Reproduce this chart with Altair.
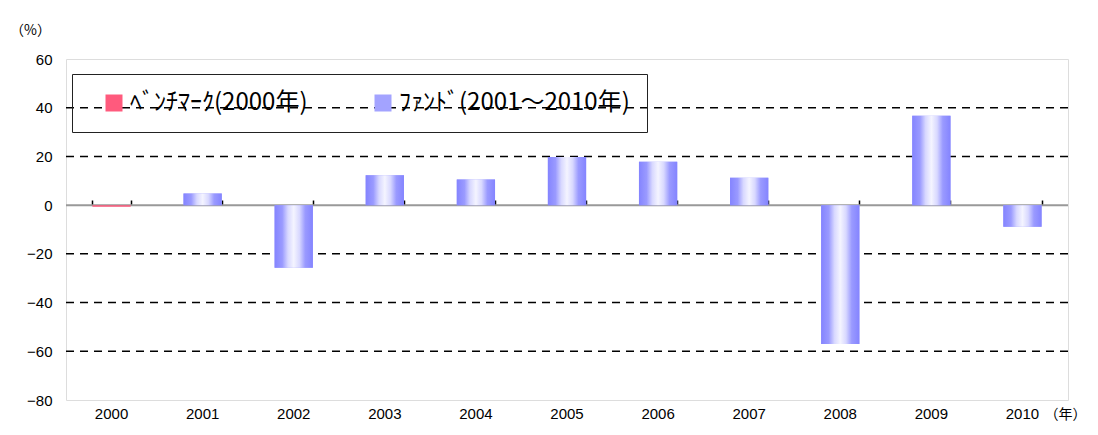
import altair as alt
import pandas as pd

years = ["2000", "2001", "2002", "2003", "2004", "2005", "2006", "2007", "2008", "2009", "2010"]
returns = [-0.7, 4.8, -25.7, 12.3, 10.5, 19.8, 17.8, 11.2, -57.0, 36.7, -8.9]
bench_label = "ﾍﾞﾝﾁﾏｰｸ(2000年)"
fund_label = "ﾌｧﾝﾄﾞ(2001～2010年)"
series = [bench_label] + [fund_label] * 10
grid_values = [40, 20, -20, -40, -60]
y_ticks = [60, 40, 20, 0, -20, -40, -60, -80]

df = pd.DataFrame({"year": years, "ret": returns, "series": series})
grid_df = pd.DataFrame({"v": grid_values})
zero_df = pd.DataFrame({"v": [0]})
tick_df = pd.DataFrame({"year": years})

NUM_FONT = "Liberation Sans"
JP_FONT = "Noto Sans CJK JP"

x_scale = alt.Scale(domain=years, paddingInner=0.58, paddingOuter=0.29)
y_scale = alt.Scale(domain=[-80, 60], nice=False, zero=False)

y_axis = alt.Axis(values=y_ticks, grid=False, ticks=False, domain=False,
                  labelFont=NUM_FONT, labelFontSize=15, labelColor="black",
                  labelPadding=14, title="（%）", titleAngle=0, titleX=-36, titleY=-29,
                  titleAlign="center", titleBaseline="middle", titleFont=JP_FONT,
                  titleFontSize=14, titleFontWeight="normal", titleColor="black")

grid = alt.Chart(grid_df).mark_rule(color="black", strokeDash=[8, 6], strokeWidth=1.5).encode(
    y=alt.Y("v:Q", scale=y_scale, axis=y_axis)
)

zero_line = alt.Chart(zero_df).mark_rule(color="#999999", strokeWidth=2).encode(
    y=alt.Y("v:Q", scale=y_scale)
)

base_bars = alt.Chart(df).mark_bar().encode(
    x=alt.X("year:N", scale=x_scale, sort=years,
            axis=alt.Axis(orient="bottom", labelAngle=0, ticks=False, domain=False,
                          labelFont=NUM_FONT, labelFontSize=15, labelColor="black",
                          labelPadding=6, title="（年）", titleX=999, titleY=14,
                          titleAlign="center", titleBaseline="middle", titleFont=JP_FONT,
                          titleFontSize=14, titleFontWeight="normal", titleColor="black")),
    y=alt.Y("ret:Q", scale=y_scale),
    color=alt.Color("series:N",
                    scale=alt.Scale(domain=[bench_label, fund_label], range=["#ff5a7d", "#a3a3ff"]),
                    legend=alt.Legend(orient="none", legendX=6, legendY=15, direction="horizontal",
                                      title=None, strokeColor="#222", padding=17,
                                      symbolType="square", symbolSize=289, symbolStrokeWidth=0,
                                      labelFont=JP_FONT, labelFontSize=24, labelColor="black",
                                      labelLimit=400, columnPadding=50, symbolOffset=13,
                                      labelOffset=4)),
)

gradient = alt.Gradient(
    gradient="linear", x1=0, x2=1, y1=0, y2=0,
    stops=[
        alt.GradientStop(offset=0, color="#8484ff"),
        alt.GradientStop(offset=0.2, color="#9a9aff"),
        alt.GradientStop(offset=0.35, color="#d8d8ff"),
        alt.GradientStop(offset=0.5, color="#f4f4ff"),
        alt.GradientStop(offset=0.65, color="#d8d8ff"),
        alt.GradientStop(offset=0.8, color="#9a9aff"),
        alt.GradientStop(offset=1, color="#8484ff"),
    ],
)

fund_bars = alt.Chart(df).transform_filter(alt.datum.series == fund_label).mark_bar(fill=gradient).encode(
    x=alt.X("year:N", scale=x_scale, sort=years, axis=None),
    y=alt.Y("ret:Q", scale=y_scale),
)

band_ticks = alt.Chart(tick_df).mark_tick(opacity=0).encode(
    x=alt.X("year:N", scale=x_scale, sort=years,
            axis=alt.Axis(orient="top", offset=-146, labels=False, domain=False, ticks=True,
                          tickBand="extent", tickSize=5, tickColor="black", tickWidth=1.5,
                          title=None))
)

chart = alt.layer(grid, zero_line, base_bars, fund_bars, band_ticks).resolve_axis(
    x="independent"
).properties(
    width=1002, height=341,
    autosize=alt.AutoSizeParams(type="none"),
    padding={"left": 58, "top": 51, "right": 22, "bottom": 26},
).configure_view(stroke="#888888", strokeWidth=2).configure(background="white")

chart.save("out.html", embed_options={"renderer": "svg", "actions": False})
